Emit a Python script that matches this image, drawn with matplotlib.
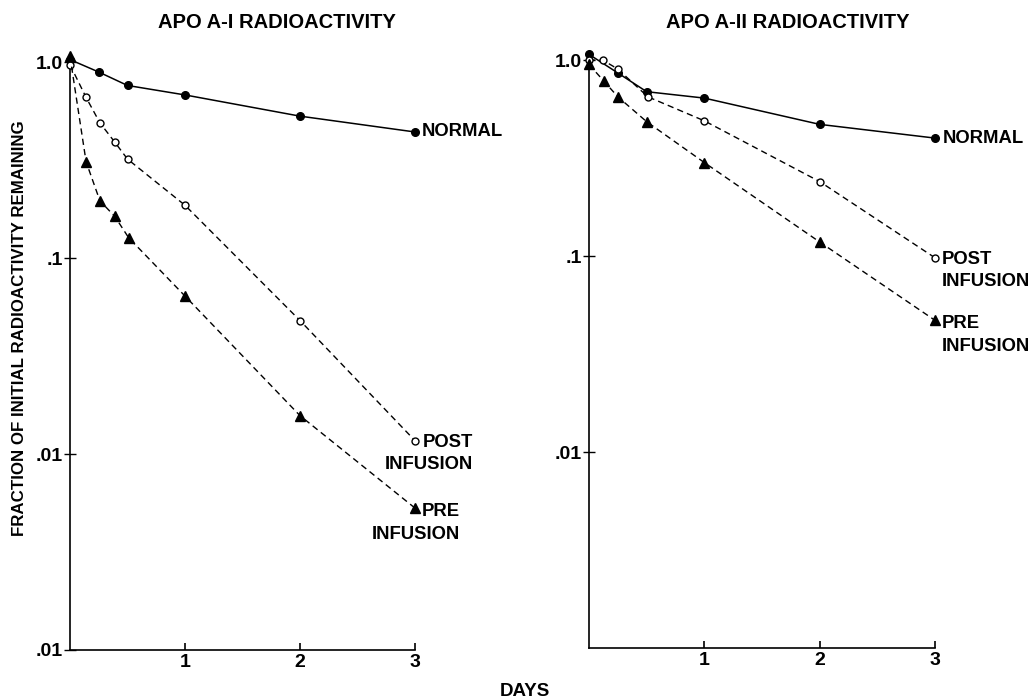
import numpy as np
import matplotlib
matplotlib.use('Agg')
import matplotlib.pyplot as plt
from matplotlib.ticker import NullLocator

plt.rcParams['font.family'] = ['Liberation Sans', 'DejaVu Sans']
plt.rcParams['font.weight'] = 'bold'

# APO A-I panel (days, fraction remaining)
a1_normal_days = [0, 0.25, 0.5, 1, 2, 3]
a1_normal_vals = [1.03, 0.89, 0.76, 0.68, 0.53, 0.44]
a1_post_days = [0, 0.14, 0.26, 0.39, 0.5, 1, 2, 3]
a1_post_vals = [0.97, 0.66, 0.49, 0.39, 0.32, 0.186, 0.048, 0.0117]
a1_pre_days = [0, 0.14, 0.26, 0.39, 0.51, 1, 2, 3]
a1_pre_vals = [1.07, 0.31, 0.196, 0.163, 0.127, 0.064, 0.0157, 0.0053]

# APO A-II panel
a2_normal_days = [0, 0.25, 0.5, 1, 2, 3]
a2_normal_vals = [1.07, 0.86, 0.69, 0.64, 0.47, 0.40]
a2_post_days = [0, 0.12, 0.25, 0.51, 1, 2, 3]
a2_post_vals = [1.0, 1.0, 0.90, 0.65, 0.49, 0.24, 0.098]
a2_pre_days = [0, 0.13, 0.25, 0.5, 1, 2, 3]
a2_pre_vals = [0.95, 0.78, 0.65, 0.485, 0.30, 0.118, 0.047]

x_ticks = [1, 2, 3]
a1_yticks = [0.001, 0.01, 0.1, 1.0]
a1_ylabels = ['.01', '.01', '.1', '1.0']
a2_yticks = [0.01, 0.1, 1.0]
a2_ylabels = ['.01', '.1', '1.0']

fig = plt.figure(figsize=(10.34, 7), dpi=100)
ax1 = fig.add_axes([70/1034, 50/700, 345/1034, 596/700])
ax2 = fig.add_axes([589/1034, 52/700, 346/1034, 596/700])

dash = (4.5, 3)
fs = 13.3
lsp = 1.42


def label(ax, text, xy, dx, dy, right_align):
    ax.annotate(text, xy, xytext=(dx, dy), textcoords='offset pixels',
                ha='left', va='top',
                multialignment='right' if right_align else 'left',
                fontsize=fs, fontweight='bold', linespacing=lsp)


def draw_panel(ax, nd, nv, pod, pov, prd, prv, yticks, ylabels, right_side):
    ax.plot(nd, nv, '-', color='black', lw=1.1, marker='o', ms=5.5,
            mfc='black', mec='black', clip_on=False, zorder=3)
    ax.plot(pod, pov, '--', color='black', lw=1.0, dashes=dash, marker='o',
            ms=5, mfc='white', mec='black', mew=1.0, clip_on=False, zorder=3)
    ax.plot(prd, prv, '--', color='black', lw=1.0, dashes=dash, marker='^',
            ms=6.5, mfc='black', mec='black', clip_on=False, zorder=3)

    ax.set_yscale('log')
    ax.set_xlim(0, 3)
    ax.set_ylim(0.001, 1.1)
    ax.spines['top'].set_visible(False)
    ax.spines['right'].set_visible(False)
    ax.spines['left'].set_linewidth(1.2)
    ax.spines['bottom'].set_linewidth(1.2)
    ax.set_xticks(x_ticks)
    ax.set_xticklabels([str(t) for t in x_ticks])
    ax.set_yticks(yticks)
    ax.set_yticklabels(ylabels)
    ax.yaxis.set_minor_locator(NullLocator())
    ax.xaxis.set_minor_locator(NullLocator())
    ax.tick_params(axis='x', direction='in', length=5, width=1.2,
                   labelsize=14, pad=3)
    ax.tick_params(axis='y', direction='inout', length=9, width=1.0,
                   labelsize=14, pad=0.5)

    if right_side:
        ax.annotate('NORMAL', (nd[-1], nv[-1]), xytext=(8, 0),
                    textcoords='offset pixels', ha='left', va='center',
                    fontsize=fs, fontweight='bold')
        label(ax, 'POST\nINFUSION', (pod[-1], pov[-1]), 7, 7, False)
        label(ax, 'PRE\nINFUSION', (prd[-1], prv[-1]), 7, 5, False)
    else:
        ax.annotate('NORMAL', (nd[-1], nv[-1]), xytext=(7, 0),
                    textcoords='offset pixels', ha='left', va='center',
                    fontsize=fs, fontweight='bold')
        label(ax, 'POST\nINFUSION', (pod[-1], pov[-1]), -30, 7, True)
        label(ax, 'PRE\nINFUSION', (prd[-1], prv[-1]), -43, 5, True)


draw_panel(ax1, a1_normal_days, a1_normal_vals, a1_post_days, a1_post_vals,
           a1_pre_days, a1_pre_vals, a1_yticks, a1_ylabels, False)
draw_panel(ax2, a2_normal_days, a2_normal_vals, a2_post_days, a2_post_vals,
           a2_pre_days, a2_pre_vals, a2_yticks, a2_ylabels, True)

fig.text(277/1034, 1 - 23/700, 'APO A-I RADIOACTIVITY', ha='center',
         va='center', fontsize=14.5, fontweight='bold')
fig.text(788/1034, 1 - 23/700, 'APO A-II RADIOACTIVITY', ha='center',
         va='center', fontsize=14.5, fontweight='bold')
fig.text(20/1034, 1 - 328/700, 'FRACTION OF INITIAL RADIOACTIVITY REMAINING',
         rotation=90, ha='center', va='center', fontsize=12.2, fontweight='bold')
fig.text(525/1034, 1 - 691/700, 'DAYS', ha='center', va='center',
         fontsize=13.5, fontweight='bold')

fig.savefig('out.png', dpi=100, facecolor='white')
